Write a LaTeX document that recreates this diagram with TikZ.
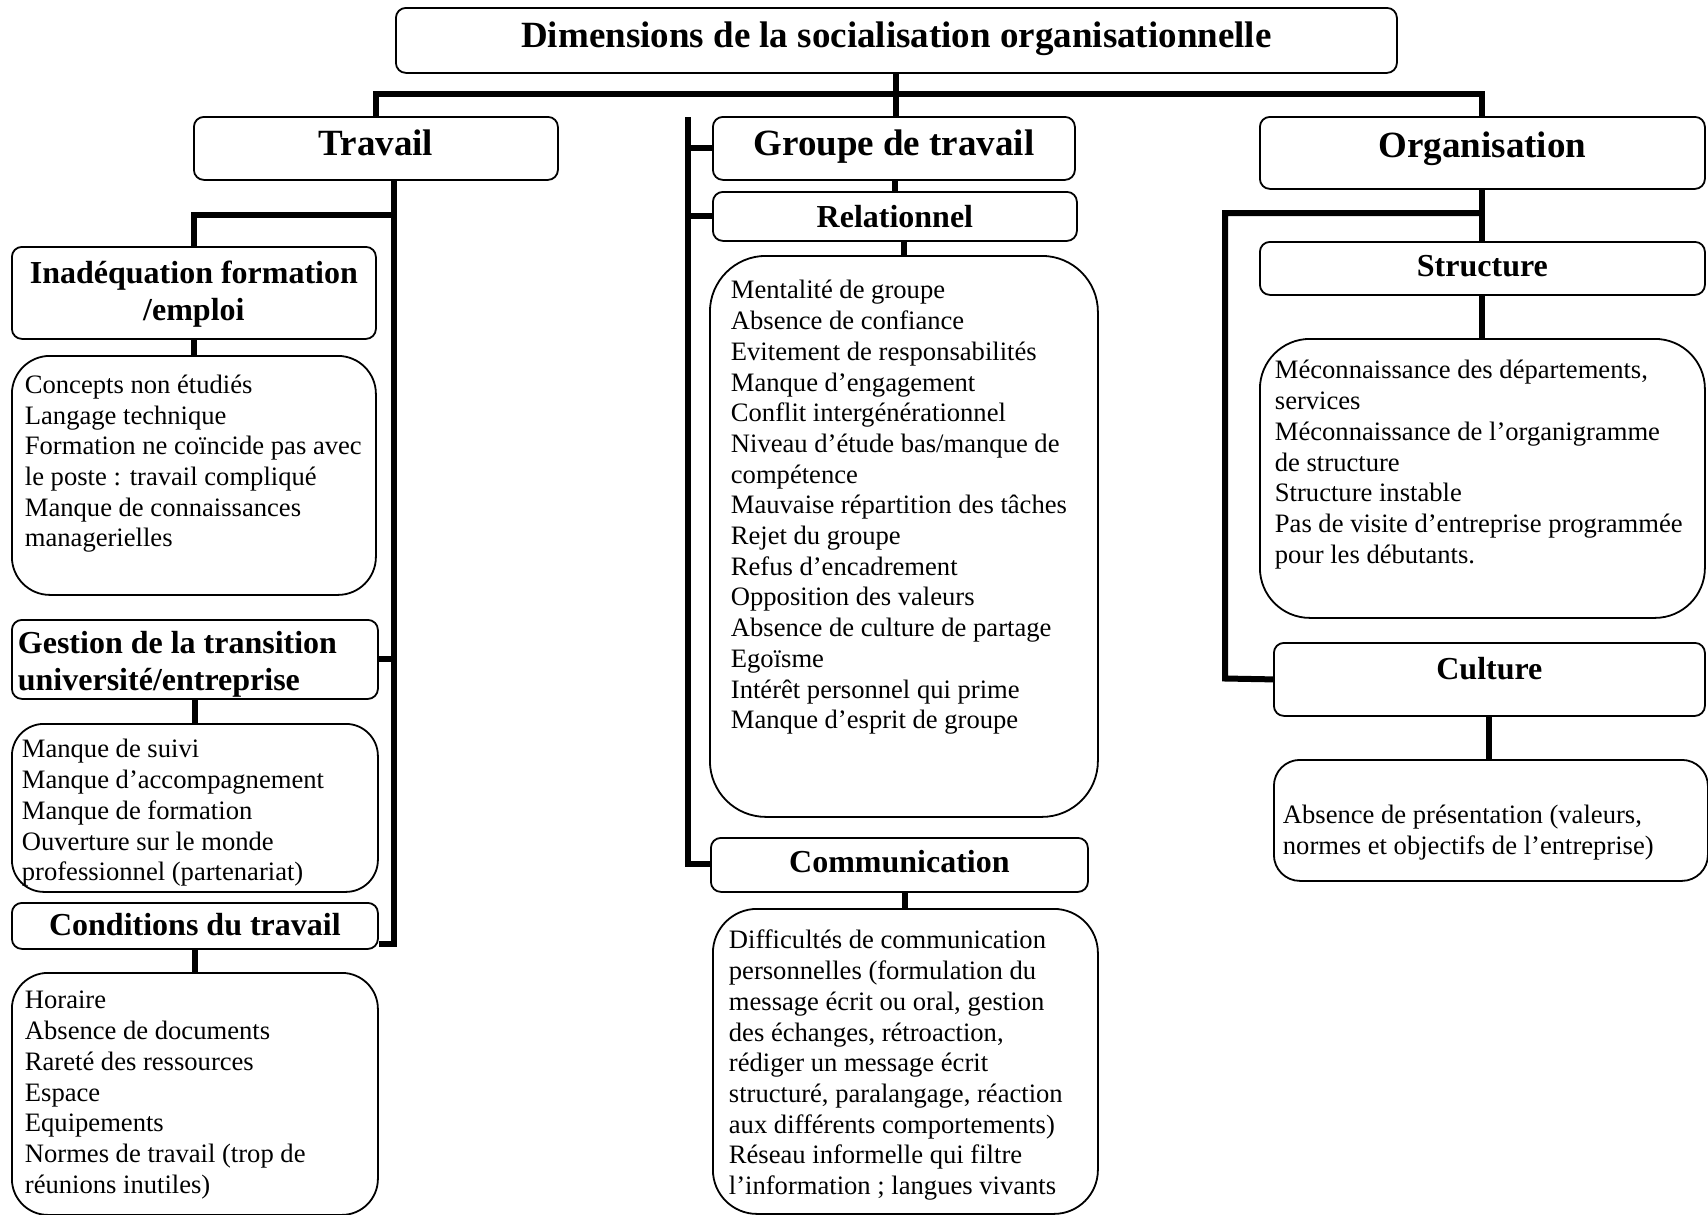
\documentclass[tikz,border=0pt]{standalone}
\usepackage{fontspec}
\setmainfont{Liberation Serif}
\newdimen\pxu \pxu=0.5pt
% #1 style, #2 name, #3 x1, #4 y1, #5 x2, #6 y2, #7 first baseline (px from top), #8 left pad (px), #9 text
\newcommand\tbox[9]{%
  \node[#1, anchor=north west, inner sep=0pt] (#2) at (#3,#4)
  {\parbox[b][\dimexpr #6\pxu-#4\pxu\relax][t]{\dimexpr #5\pxu-#3\pxu\relax}{%
     \raggedright\leftskip=#8\pxu\relax
     \vspace*{\dimexpr #7\pxu-20pt\relax}\rule{0pt}{20pt}#9}};%
}
\tikzset{
  hd/.style={draw, line width=0.9pt, rounded corners=5pt, font=\fontsize{18.5}{21}\selectfont\bfseries},
  sh/.style={draw, line width=0.9pt, rounded corners=5pt, font=\fontsize{16}{18.4}\selectfont\bfseries},
  ct/.style={draw, line width=0.9pt, rounded corners=#1, font=\fontsize{13.3}{15.35}\selectfont},
  conn/.style={line width=3pt},
}
\begin{document}
\begin{tikzpicture}[x=0.5pt, y=-0.5pt]
\fill[white] (0,0) rectangle (1708,1215);
\useasboundingbox (0,0) rectangle (1708,1215);

% level 0 and 1
\tbox{hd}{ttl}{395}{7}{1396}{72}{40}{0}{\centering Dimensions de la socialisation organisationnelle}
\tbox{hd}{trav}{193}{116}{557}{179}{39}{0}{\centering Travail}
\tbox{hd}{grp}{712}{116}{1074}{179}{39}{0}{\centering Groupe de travail}
\tbox{hd}{org}{1259}{116}{1704}{188}{41}{0}{\centering Organisation}

% Travail branch
\tbox{sh}{ina}{11}{246}{375}{338}{37}{0}{\centering Inadéquation formation\\/emploi}
\tbox{ct=19pt}{c1}{11}{355}{375}{594}{37.5}{13}{Concepts non étudiés\\Langage technique\\Formation ne coïncide pas avec\\le poste : travail compliqué\\Manque de connaissances\\managerielles}
\tbox{sh}{ges}{11}{619}{377}{698}{34}{6}{Gestion de la transition\\université/entreprise}
\tbox{ct=16pt}{c2}{11}{723}{377}{891}{34}{10}{Manque de suivi\\Manque d’accompagnement\\Manque de formation\\Ouverture sur le monde\\professionnel (partenariat)}
\tbox{sh}{cond}{11}{902}{377}{948}{33}{0}{\centering Conditions du travail}
\tbox{ct=18pt}{c3}{11}{972}{377}{1214}{36}{13}{Horaire\\Absence de documents\\Rareté des ressources\\Espace\\Equipements\\Normes de travail (trop de\\réunions inutiles)}

% Groupe de travail branch
\tbox{sh}{rel}{712}{191}{1076}{240}{36}{0}{\centering Relationnel}
\tbox{ct=28pt}{c4}{709}{255}{1097}{816}{43}{21}{Mentalité de groupe\\Absence de confiance\\Evitement de responsabilités\\Manque d’engagement\\Conflit intergénérationnel\\Niveau d’étude bas/manque de\\compétence\\Mauvaise répartition des tâches\\Rejet du groupe\\Refus d’encadrement\\Opposition des valeurs\\Absence de culture de partage\\Egoïsme\\Intérêt personnel qui prime\\Manque d’esprit de groupe}
\tbox{sh}{com}{710}{837}{1087}{891}{35}{0}{\centering Communication}
\tbox{ct=22pt}{c5}{712}{908}{1097}{1213}{40}{16}{Difficultés de communication\\personnelles (formulation du\\message écrit ou oral, gestion\\des échanges, rétroaction,\\rédiger un message écrit\\structuré, paralangage, réaction\\aux différents comportements)\\Réseau informelle qui filtre\\l’information ; langues vivants}

% Organisation branch
\tbox{sh}{str}{1259}{241}{1704}{294}{35}{0}{\centering Structure}
\tbox{ct=25pt}{c6}{1259}{338}{1704}{617}{40}{15}{Méconnaissance des départements,\\services\\Méconnaissance de l’organigramme\\de structure\\Structure instable\\Pas de visite d’entreprise programmée\\pour les débutants.}
\tbox{sh}{cul}{1273}{642}{1704}{715}{37}{0}{\centering Culture}
\tbox{ct=13pt}{c7}{1273}{759}{1707}{880}{64}{9}{Absence de présentation (valeurs,\\normes et objectifs de l’entreprise)}

% connectors: top level
\coordinate (bus) at (894,94);
\draw[conn] (trav.north) |- (bus) -| (org.north);
\draw[conn] (ttl.south) -- (ttl.south |- grp.north);

% Travail
\coordinate (ttop) at (394,179);
\coordinate (tbot) at (394,944);
\coordinate (tj) at (394,215);
\draw[conn] (ttop) -- (tbot) -- (tbot -| cond.east);
\draw[conn] (tj) -| (ina.north);
\draw[conn] (ges.east) -- (ges.east -| ttop);
\draw[conn] (ina.south) -- (c1.north);
\draw[conn] (ges.south) -- (c2.north);
\draw[conn] (cond.south) -- (c3.north);

% Groupe de travail
\coordinate (gtop) at (688,117);
\coordinate (gbot) at (688,864);
\draw[conn] (gtop) -- (gbot) -- (gbot -| com.west);
\draw[conn] (grp.west) -- (grp.west -| gtop);
\draw[conn] (rel.west) -- (rel.west -| gtop);
\draw[conn] (rel.north) -- (rel.north |- grp.south);
\draw[conn] (c4.north) -- (c4.north |- rel.south);
\draw[conn] (c5.north) -- (c5.north |- com.south);

% Organisation
\coordinate (oj) at (1482,213);
\coordinate (ol) at (1225,678.5);
\draw[conn] (org.south) -- (str.north);
\draw[conn] (oj) -| (ol) -- (cul.west);
\draw[conn] (str.south) -- (c6.north);
\draw[conn] (cul.south) -- (cul.south |- c7.north);
\end{tikzpicture}
\end{document}
